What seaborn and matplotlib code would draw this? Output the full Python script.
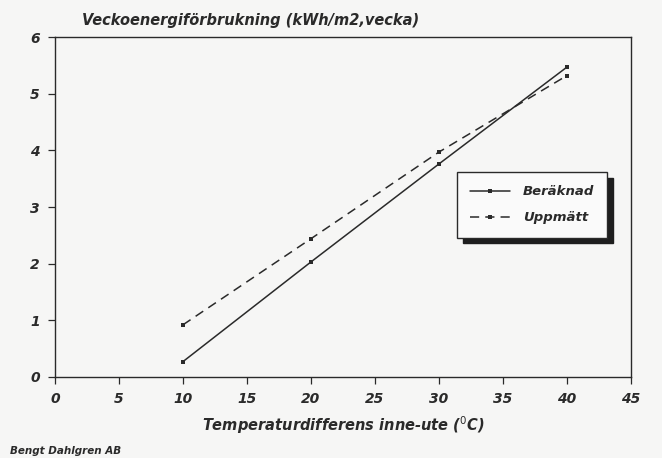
import matplotlib
matplotlib.use("Agg")
import matplotlib.pyplot as plt
import seaborn as sns
import pandas as pd

# Temperaturdifferens och veckoenergi
temp_diff = [10, 20, 30, 40]
beraknad = [0.27, 2.03, 3.76, 5.47]
uppmatt = [0.92, 2.44, 3.97, 5.32]
x_ticks = [0, 5, 10, 15, 20, 25, 30, 35, 40, 45]
y_ticks = [0, 1, 2, 3, 4, 5, 6]

df = pd.DataFrame({
    "Temperaturdifferens": temp_diff * 2,
    "Energi": beraknad + uppmatt,
    "Serie": ["Beräknad"] * len(temp_diff) + ["Uppmätt"] * len(temp_diff),
})

sns.set_style("ticks")
plt.rcParams["font.family"] = ["DejaVu Sans"]

bg = "#f6f6f5"
ink = "#2a2a2a"
fig = plt.figure(figsize=(6.62, 4.58), dpi=100, facecolor=bg)
ax = fig.add_axes([0.083, 0.177, 0.870, 0.742], facecolor=bg)

sns.lineplot(data=df, x="Temperaturdifferens", y="Energi", hue="Serie", style="Serie",
             palette={"Beräknad": ink, "Uppmätt": ink},
             dashes={"Beräknad": "", "Uppmätt": (6, 4)},
             markers={"Beräknad": "s", "Uppmätt": "s"},
             markersize=3, linewidth=1.1, markeredgewidth=0, ax=ax)

ax.set_xlim(0, 45)
ax.set_ylim(0, 6)
ax.set_xticks(x_ticks)
ax.set_yticks(y_ticks)
tick_font = dict(fontstyle="italic", fontweight="bold", fontsize=10, color=ink)
ax.set_xticklabels([str(t) for t in x_ticks], **tick_font)
ax.set_yticklabels([str(t) for t in y_ticks], **tick_font)
ax.tick_params(direction="out", length=5, width=0.9, color=ink, pad=6)
for s in ax.spines.values():
    s.set_color(ink)
    s.set_linewidth(1.0)

ax.set_xlabel("Temperaturdifferens inne-ute ($^0$C)", fontstyle="italic",
              fontweight="bold", fontsize=10.5, color=ink, labelpad=6)
ax.set_ylabel("")
fig.text(0.124, 0.955, "Veckoenergiförbrukning (kWh/m2,vecka)", fontstyle="italic",
         fontweight="bold", fontsize=10.5, color=ink, ha="left", va="center")
fig.text(0.015, 0.005, "Bengt Dahlgren AB", fontstyle="italic", fontweight="bold",
         fontsize=7.5, color=ink, ha="left", va="bottom")

# legend med mörk skugga
leg = ax.legend(loc="upper left", bbox_to_anchor=(0.698, 0.603), frameon=True,
                fancybox=False, shadow={"color": "#1e1e1e", "alpha": 1.0, "ox": 4, "oy": -4},
                handlelength=3.0, handletextpad=1.0, borderpad=1.0, labelspacing=1.0,
                borderaxespad=0,
                prop={"style": "italic", "weight": "bold", "size": 9.5})
leg.get_frame().set_edgecolor(ink)
leg.get_frame().set_linewidth(1.0)
leg.get_frame().set_facecolor("#fafafa")
for t in leg.get_texts():
    t.set_color(ink)

fig.savefig("out.png", dpi=100, facecolor=bg)
